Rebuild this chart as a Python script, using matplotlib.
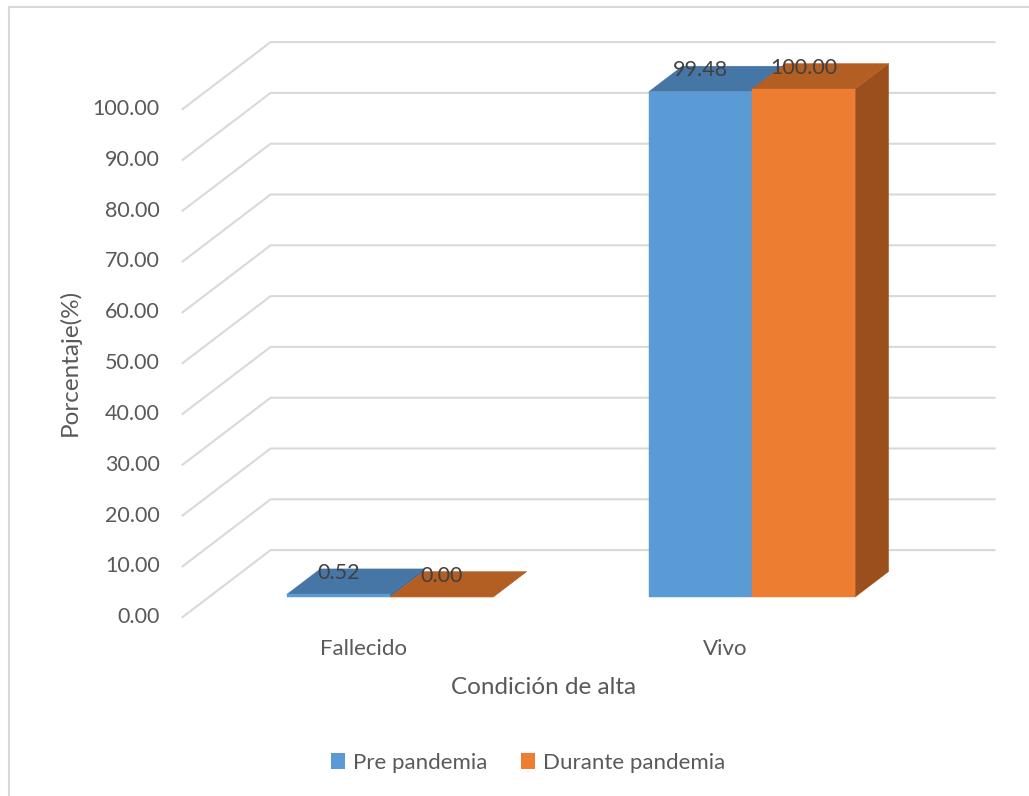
import numpy as np
import matplotlib.pyplot as plt
from matplotlib.patches import Polygon, Patch
from matplotlib.lines import Line2D

plt.rcParams['font.family'] = ['Lato', 'DejaVu Sans']

# datos
categorias = ['Fallecido', 'Vivo']
series = ['Pre pandemia', 'Durante pandemia']
pre_pandemia = [0.52, 99.48]
durante_pandemia = [0.00, 100.00]
ticks = np.arange(0, 101, 10)

# colores: frente, tapa, lado
col_pre = ('#5b9bd5', '#4676a6', '#3e6a96')
col_dur = ('#ed7d31', '#b35e22', '#9a4f1d')

# escala de la figura (pixeles)
W, H = 1029, 796
PX_CAT = 362.0
PX_PCT = 5.08
ORIG_X, ORIG_Y = 390.0, 199.0
DX = 88 / PX_CAT
DY = 67 / PX_PCT
D_FRENTE, D_BARRA, D_PARED = -0.3, 0.38, 0.7
ANCHO = 0.285

fig = plt.figure(figsize=(W / 100, H / 100), dpi=100)
ax = fig.add_axes([0, 0, 1, 1])
ax.set_xlim(-ORIG_X / PX_CAT, (W - ORIG_X) / PX_CAT)
ax.set_ylim(-ORIG_Y / PX_PCT, (H - ORIG_Y) / PX_PCT)
ax.axis('off')


def proj(x, v, d):
    # proyeccion oblicua: profundidad d desplaza a la derecha y hacia arriba
    return x + d * DX, v + d * DY


# lineas de cuadricula (piso lateral + pared del fondo)
for t in ticks:
    pts = [proj(-0.5, t, D_FRENTE), proj(-0.5, t, D_PARED), proj(1.5, t, D_PARED)]
    xs, ys = zip(*pts)
    ax.plot(xs, ys, color='#d9d9d9', lw=1.5, solid_joinstyle='miter', zorder=1)
    ax.annotate(f'{t:.2f}', proj(-0.5, t, D_FRENTE), xytext=(-23, 0),
                textcoords='offset pixels', ha='right', va='center',
                fontsize=15.5, color='#595959')


def barra(x0, valor, colores, z):
    x1 = x0 + ANCHO
    frente = [proj(x0, 0, 0), proj(x1, 0, 0), proj(x1, valor, 0), proj(x0, valor, 0)]
    tapa = [proj(x0, valor, 0), proj(x1, valor, 0), proj(x1, valor, D_BARRA), proj(x0, valor, D_BARRA)]
    lado = [proj(x1, 0, 0), proj(x1, 0, D_BARRA), proj(x1, valor, D_BARRA), proj(x1, valor, 0)]
    for cara, c in ((lado, colores[2]), (tapa, colores[1]), (frente, colores[0])):
        ax.add_patch(Polygon(cara, closed=True, facecolor=c, edgecolor=c, lw=0.3, zorder=z))
    ax.text(x0 + ANCHO / 2, valor + 0.32 * DY, f'{valor:.2f}', ha='center', va='center',
            fontsize=15.5, color='#404040', zorder=10)


for i, cat in enumerate(categorias):
    barra(i - ANCHO, pre_pandemia[i], col_pre, 2 + 2 * i)
    barra(i, durante_pandemia[i], col_dur, 3 + 2 * i)
    ax.annotate(cat, proj(i, 0, D_FRENTE), xytext=(0, -32), textcoords='offset pixels',
                ha='center', va='center', fontsize=16, color='#595959')

# titulos de ejes
fig.text(70 / W, 1 - 362 / H, 'Porcentaje(%)', rotation=90, ha='center', va='center',
         fontsize=17.5, color='#595959')
fig.text(544 / W, 1 - 688 / H, 'Condición de alta', ha='center', va='center',
         fontsize=17.5, color='#595959')

# leyenda
handles = [Patch(facecolor=col_pre[0]), Patch(facecolor=col_dur[0])]
fig.legend(handles, series, loc='center', bbox_to_anchor=(528 / W, 1 - 763 / H), ncol=2,
           frameon=False, fontsize=16, labelcolor='#595959', handlelength=0.65,
           handleheight=0.75, handletextpad=0.35, columnspacing=1.5)

# borde del area del grafico
fig.add_artist(Line2D([9 / W, 9 / W], [0, 1 - 7 / H], color='#d9d9d9', lw=1.5))
fig.add_artist(Line2D([9 / W, 1], [1 - 7 / H, 1 - 7 / H], color='#d9d9d9', lw=1.5))

fig.savefig('out.png', dpi=100)
